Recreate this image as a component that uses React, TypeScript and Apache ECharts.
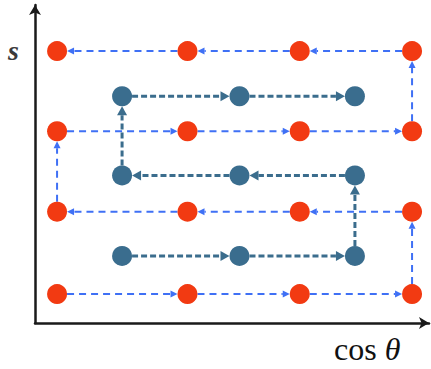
import React, { useEffect, useRef } from "react";
import * as echarts from "echarts";

// Path of the red points (visiting order), in axis units
const redPathX = [0.56, 3.87, 6.72, 9.57, 9.57, 6.72, 3.87, 0.56, 0.56, 3.87, 6.72, 9.57, 9.57, 6.72, 3.87, 0.56];
const redPathY = [0.91, 0.91, 0.91, 0.91, 3.5, 3.5, 3.5, 3.5, 6.03, 6.03, 6.03, 6.03, 8.55, 8.55, 8.55, 8.55];

// Path of the blue points (visiting order)
const bluePathX = [2.21, 5.19, 8.12, 8.12, 5.19, 2.21, 2.21, 5.19, 8.12];
const bluePathY = [2.11, 2.11, 2.11, 4.64, 4.64, 4.64, 7.13, 7.13, 7.13];

const yLabel = "s";

const RED = "#f23a12";
const BLUE_DOT = "#3a6d8e";
const RED_LINE = "#3f70f5";
const BLUE_LINE = "#3b6d8d";

function segments(xs: number[], ys: number[]) {
  const out: number[][] = [];
  for (let i = 0; i < xs.length - 1; i++) {
    out.push([xs[i], ys[i], xs[i + 1], ys[i + 1]]);
  }
  return out;
}

function makeRender(color: string, width: number, dash: number[], arrowLen: number, arrowW: number, radius: number) {
  return (params: any, api: any) => {
    const p1 = api.coord([api.value(0), api.value(1)]);
    const p2 = api.coord([api.value(2), api.value(3)]);
    const dx = p2[0] - p1[0];
    const dy = p2[1] - p1[1];
    const len = Math.sqrt(dx * dx + dy * dy) || 1;
    const ux = dx / len;
    const uy = dy / len;
    const start = [p1[0] + ux * radius, p1[1] + uy * radius];
    const tip = [p2[0] - ux * radius, p2[1] - uy * radius];
    const base = [tip[0] - ux * arrowLen, tip[1] - uy * arrowLen];
    const nx = -uy;
    const ny = ux;
    return {
      type: "group",
      children: [
        {
          type: "line",
          shape: { x1: start[0], y1: start[1], x2: base[0], y2: base[1] },
          style: { stroke: color, lineWidth: width, lineDash: dash, fill: null },
        },
        {
          type: "polygon",
          shape: {
            points: [
              tip,
              [base[0] + nx * arrowW / 2, base[1] + ny * arrowW / 2],
              [base[0] - nx * arrowW / 2, base[1] - ny * arrowW / 2],
            ],
          },
          style: { fill: color, stroke: null },
        },
      ],
    };
  };
}

export default function App() {
  const ref = useRef<HTMLDivElement>(null);
  useEffect(() => {
    if (!ref.current) return;
    const chart = echarts.init(ref.current, null, { renderer: "svg" });
    const redPts = redPathX.map((x, i) => [x, redPathY[i]]);
    const bluePts = bluePathX.map((x, i) => [x, bluePathY[i]]);
    chart.setOption({
      animation: false,
      backgroundColor: "#ffffff",
      grid: { left: 35, right: 2, top: 5, bottom: 46 },
      xAxis: {
        type: "value",
        min: 0,
        max: 10,
        axisLine: { show: true, symbol: ["none", "arrow"], symbolSize: [9, 10], lineStyle: { color: "#1a1a1a", width: 2.5 } },
        axisTick: { show: false },
        axisLabel: { show: false },
        splitLine: { show: false },
      },
      yAxis: {
        type: "value",
        min: 0,
        max: 10,
        axisLine: { show: true, symbol: ["none", "arrow"], symbolSize: [9, 10], lineStyle: { color: "#1a1a1a", width: 2.5 } },
        axisTick: { show: false },
        axisLabel: { show: false },
        splitLine: { show: false },
      },
      graphic: [
        {
          type: "text",
          left: 8,
          top: 36,
          style: { text: yLabel, font: "italic bold 28px 'Liberation Serif', serif", fill: "#3a3a3a" },
        },
        {
          type: "text",
          left: 334,
          top: 333,
          style: {
            text: "{a|cos }{b|θ}",
            rich: {
              a: { font: "32px 'Liberation Serif', serif", fill: "#111" },
              b: { font: "italic 32px 'Liberation Serif', serif", fill: "#111" },
            },
          },
        },
      ],
      series: [
        {
          type: "custom",
          renderItem: makeRender(RED_LINE, 2, [7, 5], 7, 7, 10),
          data: segments(redPathX, redPathY),
          encode: { x: [0, 2], y: [1, 3] },
          z: 2,
          silent: true,
        },
        {
          type: "custom",
          renderItem: makeRender(BLUE_LINE, 3, [6, 3], 9, 10, 10),
          data: segments(bluePathX, bluePathY),
          encode: { x: [0, 2], y: [1, 3] },
          z: 2,
          silent: true,
        },
        {
          type: "scatter",
          data: redPts,
          symbol: "circle",
          symbolSize: 20,
          itemStyle: { color: RED, opacity: 1 },
          z: 5,
        },
        {
          type: "scatter",
          data: bluePts,
          symbol: "circle",
          symbolSize: 20,
          itemStyle: { color: BLUE_DOT, opacity: 1 },
          z: 5,
        },
      ],
    });
    return () => chart.dispose();
  }, []);
  return <div ref={ref} style={{ width: 431, height: 369, position: "absolute", left: 0, top: 0 }} />;
}
